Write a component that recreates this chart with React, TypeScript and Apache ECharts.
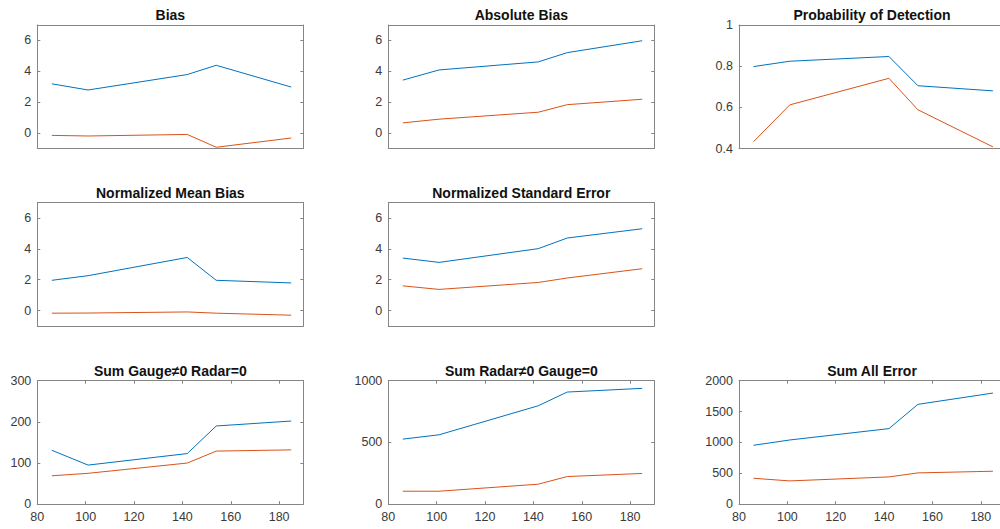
import React, { useEffect, useRef } from "react";
import * as echarts from "echarts";

// ---- data ----
const xValues = [86, 101, 142, 154, 185];
const xTicks = [80, 100, 120, 140, 160, 180];

const biasBlue = [3.19, 2.79, 3.79, 4.39, 2.98];
const biasRed = [-0.15, -0.19, -0.09, -0.92, -0.32];

const absBiasBlue = [3.43, 4.09, 4.61, 5.21, 5.98];
const absBiasRed = [0.66, 0.9, 1.35, 1.84, 2.19];

const podBlue = [0.798, 0.824, 0.847, 0.705, 0.68];
const podRed = [0.433, 0.612, 0.741, 0.588, 0.408];

const nmbBlue = [1.96, 2.26, 3.44, 1.96, 1.79];
const nmbRed = [-0.17, -0.16, -0.09, -0.17, -0.3];

const nseBlue = [3.4, 3.12, 4.01, 4.7, 5.3];
const nseRed = [1.6, 1.37, 1.82, 2.11, 2.71];

const gaugeBlue = [131, 95, 123, 190, 202];
const gaugeRed = [69, 75, 100, 129, 132];

const radarBlue = [527, 562, 797, 908, 938];
const radarRed = [105, 105, 162, 224, 249];

const allBlue = [954, 1040, 1224, 1617, 1800];
const allRed = [420, 377, 442, 507, 534];

const biasTicks = [0, 2, 4, 6];
const podTicks = [0.4, 0.6, 0.8, 1];
const gaugeTicks = [0, 100, 200, 300];
const radarTicks = [0, 500, 1000];
const allTicks = [0, 500, 1000, 1500, 2000];

const titles = [
  "Bias",
  "Absolute Bias",
  "Probability of Detection",
  "Normalized Mean Bias",
  "Normalized Standard Error",
  "Sum Gauge\u22600 Radar=0",
  "Sum Radar\u22600 Gauge=0",
  "Sum All Error",
];

const panels = [
  { title: titles[0], blue: biasBlue, red: biasRed, min: -1, max: 7, ticks: biasTicks, slot: 0 },
  { title: titles[1], blue: absBiasBlue, red: absBiasRed, min: -1, max: 7, ticks: biasTicks, slot: 1 },
  { title: titles[2], blue: podBlue, red: podRed, min: 0.4, max: 1, ticks: podTicks, slot: 2 },
  { title: titles[3], blue: nmbBlue, red: nmbRed, min: -1, max: 7, ticks: biasTicks, slot: 3 },
  { title: titles[4], blue: nseBlue, red: nseRed, min: -1, max: 7, ticks: biasTicks, slot: 4 },
  { title: titles[5], blue: gaugeBlue, red: gaugeRed, min: 0, max: 300, ticks: gaugeTicks, slot: 6 },
  { title: titles[6], blue: radarBlue, red: radarRed, min: 0, max: 1000, ticks: radarTicks, slot: 7 },
  { title: titles[7], blue: allBlue, red: allRed, min: 0, max: 2000, ticks: allTicks, slot: 8 },
];

// ---- layout / style ----
const COL_LEFT = [37.3, 388.3, 739];
const ROW_TOP = [25, 202.5, 380.7];
const W = 266;
const H = 123.5;
const AX = "#858585";
const TXT = "#3a3a3a";
const FONT = "'Liberation Sans', Arial, Helvetica, sans-serif";
const BLUE = "#0072BD";
const RED = "#D95319";

export default function App() {
  const ref = useRef<HTMLDivElement>(null);

  useEffect(() => {
    if (!ref.current) return;
    const chart = echarts.init(ref.current, undefined, { renderer: "svg" });

    const grid: any[] = [];
    const xAxis: any[] = [];
    const yAxis: any[] = [];
    const series: any[] = [];
    const graphic: any[] = [];

    panels.forEach((p, i) => {
      const col = p.slot % 3;
      const row = Math.floor(p.slot / 3);
      const left = COL_LEFT[col];
      const top = ROW_TOP[row];
      const isBottom = row === 2;
      grid.push({
        left,
        top,
        width: W,
        height: H,
        containLabel: false,
        outerBoundsMode: "none",
      });

      const lineStyle = { color: AX, width: 1 };
      const labelStyle = { color: TXT, fontSize: 12.5, fontFamily: FONT };

      ["bottom", "top"].forEach((pos) => {
        xAxis.push({
          type: "value",
          gridIndex: i,
          position: pos,
          min: 80,
          max: 190,
          axisLine: { show: true, onZero: false, lineStyle },
          axisTick: { show: isBottom, inside: true, length: 3, customValues: xTicks, lineStyle },
          axisLabel: {
            show: isBottom && pos === "bottom",
            customValues: xTicks,
            margin: 6,
            formatter: (v: number) => String(v),
            ...labelStyle,
          },
          splitLine: { show: false },
        });
      });
      ["left", "right"].forEach((pos) => {
        yAxis.push({
          type: "value",
          gridIndex: i,
          position: pos,
          min: p.min,
          max: p.max,
          axisLine: { show: true, onZero: false, lineStyle },
          axisTick: { show: true, inside: true, length: 3, customValues: p.ticks, lineStyle },
          axisLabel: {
            show: pos === "left",
            customValues: p.ticks,
            margin: 6,
            formatter: (v: number) => String(v),
            ...labelStyle,
          },
          splitLine: { show: false },
        });
      });

      [
        { d: p.blue, c: BLUE },
        { d: p.red, c: RED },
      ].forEach((s) => {
        series.push({
          type: "line",
          xAxisIndex: 2 * i,
          yAxisIndex: 2 * i,
          data: xValues.map((x, k) => [x, s.d[k]]),
          showSymbol: false,
          symbol: "none",
          lineStyle: { color: s.c, width: 1 },
          itemStyle: { color: s.c },
          silent: true,
        });
      });

      graphic.push({
        type: "text",
        x: left + W / 2,
        y: top - 10,
        style: {
          text: p.title,
          textAlign: "center",
          textVerticalAlign: "middle",
          fontSize: 14,
          fontWeight: "bold",
          fontFamily: FONT,
          fill: "#111",
        },
      });
    });

    chart.setOption({
      animation: false,
      backgroundColor: "#ffffff",
      grid,
      xAxis,
      yAxis,
      series,
      graphic,
    });

    return () => chart.dispose();
  }, []);

  return (
    <div
      ref={ref}
      style={{ position: "absolute", left: 0, top: 0, width: 1000, height: 529 }}
    />
  );
}
